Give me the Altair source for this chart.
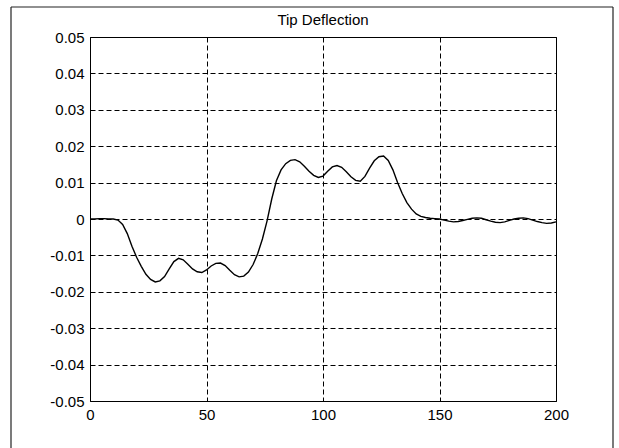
import altair as alt
import pandas as pd

# time samples and tip deflection values
t = list(range(0, 201, 2))
deflection = [
    0.0, 0.0, 0.0001, 0.0001, 0.0, 0.0, -0.0003, -0.0015, -0.004, -0.0075,
    -0.0105, -0.013, -0.0152, -0.0166, -0.0173, -0.0170, -0.0158, -0.0137, -0.0117, -0.0108,
    -0.0112, -0.0124, -0.0137, -0.0145, -0.0147, -0.0140, -0.0129, -0.0122, -0.0121, -0.0128,
    -0.0141, -0.0153, -0.0159, -0.0157, -0.0146, -0.0125, -0.0095, -0.0055, -0.0005, 0.0055,
    0.0105, 0.0135, 0.0152, 0.0161, 0.0163, 0.0157, 0.0145, 0.0131, 0.0120, 0.0114,
    0.0118, 0.0131, 0.0143, 0.0147, 0.0142, 0.0130, 0.0116, 0.0106, 0.0104, 0.0117,
    0.0140, 0.0160, 0.0171, 0.0173, 0.0161, 0.0135, 0.0100, 0.0070, 0.0045, 0.0027,
    0.0014, 0.0007, 0.0004, 0.0002, 0.0001, 0.0, -0.0003, -0.0006, -0.0008, -0.0007,
    -0.0004, -0.0001, 0.0002, 0.0003, 0.0002, -0.0002, -0.0006, -0.0009, -0.0010, -0.0008,
    -0.0004, 0.0, 0.0002, 0.0003, 0.0001, -0.0003, -0.0007, -0.0010, -0.0012, -0.0011,
    -0.0008,
]
x_ticks = [0, 50, 100, 150, 200]
y_ticks = [-0.05, -0.04, -0.03, -0.02, -0.01, 0, 0.01, 0.02, 0.03, 0.04, 0.05]
title_text = "Tip Deflection"

df = pd.DataFrame({"t": t, "v": deflection})

FONT = "Liberation Sans"

line = alt.Chart(df).mark_line(color="black", strokeWidth=1.4).encode(
    x=alt.X(
        "t:Q",
        scale=alt.Scale(domain=[0, 200], nice=False, zero=False),
        axis=alt.Axis(
            values=x_ticks, format="d", title=None, grid=True,
            gridColor="black", gridDash=[5, 3], gridWidth=1, gridOpacity=1,
            domain=False, ticks=False, labelPadding=6,
            labelFont=FONT, labelFontSize=15, labelColor="black",
            labelFlush=False, labelOverlap=False,
        ),
    ),
    y=alt.Y(
        "v:Q",
        scale=alt.Scale(domain=[-0.05, 0.05], nice=False, zero=False),
        axis=alt.Axis(
            values=y_ticks, title=None, grid=True,
            labelExpr="abs(datum.value) < 1e-9 ? '0' : replace(format(datum.value, '.2f'), '\u2212', '-')",
            gridColor="black", gridDash=[5, 3], gridWidth=1, gridOpacity=1,
            domain=False, ticks=False, labelPadding=6,
            labelFont=FONT, labelFontSize=15, labelColor="black",
            labelFlush=False, labelOverlap=False,
        ),
    ),
)

one_row = alt.Data(values=[{}])
title_mark = alt.Chart(one_row).mark_text(
    font=FONT, fontSize=15, color="black", align="center", baseline="middle"
).encode(text=alt.value(title_text), x=alt.value(233), y=alt.value(-17))

frame_top = alt.Chart(one_row).mark_rule(color="#222", strokeWidth=1.2).encode(
    x=alt.value(-79), x2=alt.value(523), y=alt.value(-30)
)
frame_left = alt.Chart(one_row).mark_rule(color="#222", strokeWidth=1.2).encode(
    x=alt.value(-79), y=alt.value(-30), y2=alt.value(420)
)
frame_right = alt.Chart(one_row).mark_rule(color="#222", strokeWidth=1.2).encode(
    x=alt.value(523), y=alt.value(-30), y2=alt.value(420)
)

chart = alt.layer(line, title_mark, frame_top, frame_left, frame_right).properties(
    width=466,
    height=364,
    autosize=alt.AutoSizeParams(type="none"),
    padding={"left": 90, "top": 37, "right": 63, "bottom": 47},
    background="white",
).configure_view(stroke="black", strokeWidth=1)

chart.save("out.html", embed_options={"renderer": "svg", "actions": False})
